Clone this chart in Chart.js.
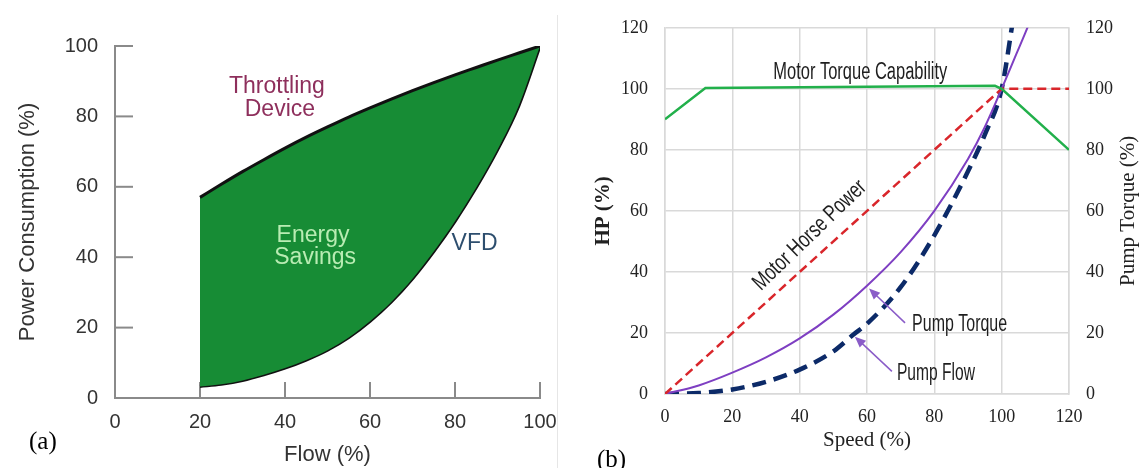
<!DOCTYPE html>
<html>
<head>
<meta charset="utf-8">
<script src="https://cdn.jsdelivr.net/npm/chart.js@4.4.0/dist/chart.umd.min.js"></script>
<style>
  body { margin: 0; background: #fff; width: 1143px; height: 468px; overflow: hidden; position: relative; }
  #wrapA { position: absolute; left: 0; top: 0; width: 570px; height: 468px; }
  #wrapB { position: absolute; left: 590px; top: 0; width: 553px; height: 468px; }
  .tag { position: absolute; font-family: "Liberation Serif", "Times New Roman", serif; font-size: 25px; color: #000; line-height: 1; }
  #sep { position: absolute; left: 557px; top: 15px; width: 1px; height: 453px; background: #e6e6e6; }
</style>
</head>
<body>
<div id="sep"></div>
<div id="wrapA"><canvas id="chartA" width="570" height="468"></canvas></div>
<div id="wrapB"><canvas id="chartB" width="553" height="468"></canvas></div>
<div class="tag" style="left:29px;top:428px">(a)</div>
<div class="tag" style="left:597px;top:446px">(b)</div>
<script>
// (a) power consumption vs flow
const flow = [20, 25, 30, 35, 40, 45, 50, 55, 60, 65, 70, 75, 80, 85, 90, 95, 100];
const throttling = [57, 60.7, 64.3, 67.7, 71, 74.1, 77, 79.8, 82.4, 84.9, 87.3, 89.6, 91.8, 93.9, 96, 98, 100];
const vfd = [3.3, 3.9, 5, 6.6, 8.5, 10.8, 13.6, 17.2, 21.8, 27.3, 33.9, 41.6, 50.2, 59.8, 70.5, 83, 100];
const flowTicks = [0, 20, 40, 60, 80, 100];
const powerTicks = [0, 20, 40, 60, 80, 100];

// (b) motor / pump vs speed
const capSpeed = [0, 12, 98, 100, 120];
const capValue = [90, 100.3, 101, 100, 80];
const hpSpeed = [0, 100, 120];
const hpValue = [0, 100, 100];
const torqueSpeed = [0, 10, 20, 30, 40, 50, 60, 70, 80, 90, 95, 100, 104, 108, 111];
const torqueValue = [0, 2.8, 7, 12, 18.2, 26, 35.5, 46.5, 60, 77, 87.5, 100, 110.5, 121, 130];
const pumpFlowSpeed = [0, 10, 20, 30, 40, 50, 56, 60, 70, 80, 90, 95, 100, 103, 105];
const pumpFlowValue = [0, 0.3, 1.5, 4, 8, 14, 19.5, 23, 35, 52, 73, 85, 100, 120, 135];
const speedTicks = [0, 20, 40, 60, 80, 100, 120];

const SANS = '"Liberation Sans", Arial, Helvetica, sans-serif';
const SERIF = '"Liberation Serif", "Times New Roman", serif';

const pts = (xs, ys) => xs.map((v, i) => ({ x: v, y: ys[i] }));
const fixTicks = list => s => { s.ticks = list.map(v => ({ value: v })); };

// short tick marks drawn inward from the axes on chart (a)
const innerTicks = {
  id: 'innerTicks',
  beforeDatasetsDraw(chart) {
    const { ctx, chartArea, scales: { x, y } } = chart;
    ctx.save();
    ctx.strokeStyle = '#8a8a8a';
    ctx.lineWidth = 2;
    powerTicks.forEach(v => {
      const py = y.getPixelForValue(v);
      ctx.beginPath(); ctx.moveTo(chartArea.left, py); ctx.lineTo(chartArea.left + 18, py); ctx.stroke();
    });
    flowTicks.slice(1).forEach(v => {
      const px = x.getPixelForValue(v);
      ctx.beginPath(); ctx.moveTo(px, chartArea.bottom); ctx.lineTo(px, chartArea.bottom - 16); ctx.stroke();
    });
    ctx.restore();
  }
};

const notesA = {
  id: 'notesA',
  afterDatasetsDraw(chart) {
    const { ctx, scales: { x, y } } = chart;
    const put = (t, vx, vy, color) => {
      ctx.fillStyle = color;
      ctx.fillText(t, x.getPixelForValue(vx), y.getPixelForValue(vy));
    };
    ctx.save();
    ctx.font = '23px ' + SANS;
    ctx.textAlign = 'center';
    ctx.textBaseline = 'middle';
    put('Throttling', 38.1, 88.4, '#8e2f5c');
    put('Device', 38.8, 81.8, '#8e2f5c');
    put('Energy', 46.6, 46, '#b9ecb3');
    put('Savings', 47.1, 40, '#b9ecb3');
    put('VFD', 84.6, 43.8, '#2d4e6e');
    ctx.restore();
  }
};

new Chart(document.getElementById('chartA'), {
  type: 'line',
  data: {
    datasets: [
      {
        label: 'Throttling Device',
        data: pts(flow, throttling),
        borderColor: '#111',
        borderWidth: 3,
        backgroundColor: '#178c35',
        fill: '+1',
        pointRadius: 0,
        cubicInterpolationMode: 'monotone'
      },
      {
        label: 'VFD',
        data: pts(flow, vfd),
        borderColor: '#111',
        borderWidth: 3.2,
        fill: false,
        pointRadius: 0,
        cubicInterpolationMode: 'monotone'
      }
    ]
  },
  options: {
    responsive: false,
    animation: false,
    events: [],
    layout: { padding: { top: 46, right: 30, left: 0, bottom: 0 } },
    plugins: { legend: { display: false }, tooltip: { enabled: false } },
    scales: {
      x: {
        type: 'linear', min: 0, max: 100,
        afterBuildTicks: fixTicks(flowTicks),
        afterFit: s => { s.height = 70; },
        grid: { drawOnChartArea: false, drawTicks: false },
        border: { color: '#8a8a8a', width: 2 },
        ticks: { padding: 12, color: '#333', font: { family: SANS, size: 20 } },
        title: { display: true, text: 'Flow (%)', color: '#333', font: { family: SANS, size: 22 }, padding: { top: 0, bottom: 0 } }
      },
      y: {
        type: 'linear', min: 0, max: 100,
        afterBuildTicks: fixTicks(powerTicks),
        afterFit: s => { s.width = 115; },
        grid: { drawOnChartArea: false, drawTicks: false },
        border: { color: '#8a8a8a', width: 2 },
        ticks: { padding: 17, color: '#333', font: { family: SANS, size: 20 } },
        title: { display: true, text: 'Power Consumption (%)', color: '#333', font: { family: SANS, size: 22 }, padding: { top: 15, bottom: 0 } }
      }
    }
  },
  plugins: [innerTicks, notesA]
});

// condensed label: squeeze the text to a given width
function narrowText(ctx, text, x, y, width, align, angle) {
  const w = ctx.measureText(text).width;
  ctx.save();
  ctx.translate(x, y);
  if (angle) ctx.rotate(angle * Math.PI / 180);
  ctx.scale(width / w, 1);
  ctx.textAlign = align;
  ctx.fillText(text, 0, 0);
  ctx.restore();
}

function arrow(ctx, x1, y1, x2, y2, color) {
  const a = Math.atan2(y2 - y1, x2 - x1);
  ctx.strokeStyle = color;
  ctx.fillStyle = color;
  ctx.lineWidth = 1.5;
  ctx.beginPath(); ctx.moveTo(x1, y1); ctx.lineTo(x2 - 8 * Math.cos(a), y2 - 8 * Math.sin(a)); ctx.stroke();
  ctx.beginPath();
  ctx.moveTo(x2, y2);
  ctx.lineTo(x2 - 12 * Math.cos(a - 0.4), y2 - 12 * Math.sin(a - 0.4));
  ctx.lineTo(x2 - 12 * Math.cos(a + 0.4), y2 - 12 * Math.sin(a + 0.4));
  ctx.closePath(); ctx.fill();
}

const notesB = {
  id: 'notesB',
  afterDatasetsDraw(chart) {
    const { ctx, scales: { x, y, y2 } } = chart;
    const px = v => x.getPixelForValue(v);
    const py = v => y.getPixelForValue(v);
    ctx.save();
    ctx.font = '23px ' + SANS;
    ctx.fillStyle = '#1e1e1e';
    ctx.textBaseline = 'middle';
    narrowText(ctx, 'Motor Torque Capability', px(58), py(105.4), 174, 'center');
    narrowText(ctx, 'Motor Horse Power', px(43), py(52), 148, 'center', -44);
    narrowText(ctx, 'Pump Torque', px(73.4), py(22.6), 95, 'left');
    narrowText(ctx, 'Pump Flow', px(68.9), py(6.8), 78, 'left');
    arrow(ctx, px(71.3), py(23.3), px(60.6), py(34.6), '#8a5cc8');
    arrow(ctx, px(67.4), py(7.4), px(56.4), py(18.8), '#8a5cc8');
    ctx.restore();

    // right axis title reads bottom-to-top like the left one
    ctx.save();
    ctx.font = '21px ' + SERIF;
    ctx.fillStyle = '#222';
    ctx.textAlign = 'center';
    ctx.textBaseline = 'middle';
    ctx.translate(y2.right - 15, (y2.top + y2.bottom) / 2);
    ctx.rotate(-Math.PI / 2);
    ctx.fillText('Pump Torque (%)', 0, 0);
    ctx.restore();
  }
};

const gridB = { color: '#d9d9d9', lineWidth: 1.5, drawTicks: false };

new Chart(document.getElementById('chartB'), {
  type: 'line',
  data: {
    datasets: [
      {
        label: 'Motor Torque Capability',
        data: pts(capSpeed, capValue),
        borderColor: '#22b04b', borderWidth: 2.5, pointRadius: 0, tension: 0
      },
      {
        label: 'Motor Horse Power',
        data: pts(hpSpeed, hpValue),
        borderColor: '#d9262b', borderWidth: 2.5, borderDash: [9, 5], pointRadius: 0, tension: 0
      },
      {
        label: 'Pump Torque',
        data: pts(torqueSpeed, torqueValue),
        yAxisID: 'y2',
        borderColor: '#7e3fc2', borderWidth: 2, pointRadius: 0, cubicInterpolationMode: 'monotone'
      },
      {
        label: 'Pump Flow',
        data: pts(pumpFlowSpeed, pumpFlowValue),
        borderColor: '#0c2a68', borderWidth: 4.5, borderDash: [14, 8], pointRadius: 0, cubicInterpolationMode: 'monotone'
      }
    ]
  },
  options: {
    responsive: false,
    animation: false,
    events: [],
    layout: { padding: { top: 23, right: 0, left: 0, bottom: 0 } },
    plugins: { legend: { display: false }, tooltip: { enabled: false } },
    scales: {
      x: {
        type: 'linear', min: 0, max: 120,
        afterBuildTicks: fixTicks(speedTicks),
        afterFit: s => { s.height = 74; },
        grid: gridB,
        border: { color: '#d9d9d9', width: 1.5 },
        ticks: { padding: 12, color: '#222', font: { family: SERIF, size: 18 } },
        title: { display: true, text: 'Speed (%)', color: '#222', font: { family: SERIF, size: 21 }, padding: { top: 0, bottom: 15 } }
      },
      y: {
        type: 'linear', min: 0, max: 120,
        afterBuildTicks: fixTicks(speedTicks),
        afterFit: s => { s.width = 75; },
        grid: gridB,
        border: { color: '#d9d9d9', width: 1.5 },
        ticks: { padding: 17, color: '#222', font: { family: SERIF, size: 18 } },
        title: { display: true, text: 'HP (%)', color: '#222', font: { family: SERIF, size: 21, weight: 'bold' }, padding: { top: 1, bottom: 0 } }
      },
      y2: {
        type: 'linear', position: 'right', min: 0, max: 120,
        afterBuildTicks: fixTicks(speedTicks),
        afterFit: s => { s.width = 74; },
        grid: { drawOnChartArea: false, drawTicks: false },
        border: { color: '#d9d9d9', width: 1.5 },
        ticks: { padding: 17, color: '#222', font: { family: SERIF, size: 18 } },
        title: { display: false }
      }
    }
  },
  plugins: [notesB]
});
</script>
</body>
</html>
